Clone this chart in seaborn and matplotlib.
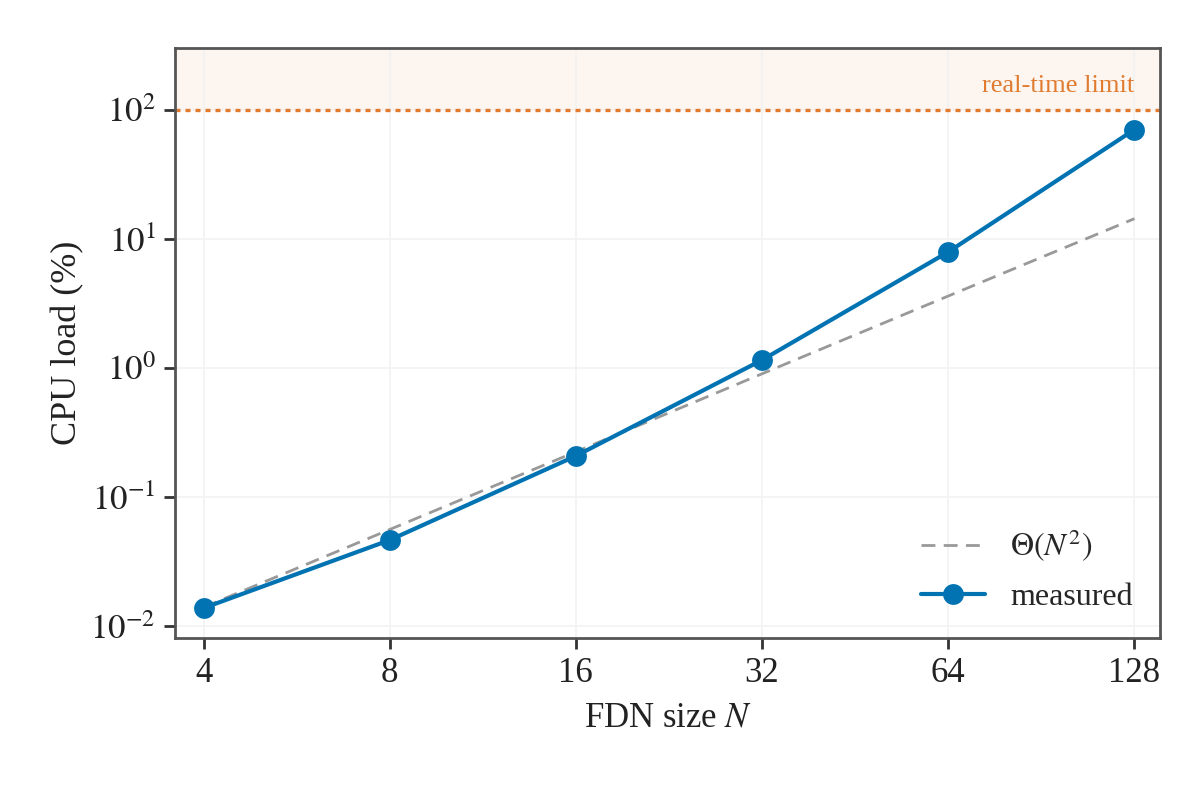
import numpy as np
import pandas as pd
import seaborn as sns
import matplotlib.pyplot as plt
from matplotlib.ticker import FixedLocator, NullLocator, FixedFormatter

# Data
fdn_size = [4, 8, 16, 32, 64, 128]
cpu_measured = [0.0138, 0.0464, 0.208, 1.15, 7.9, 70.0]
cpu_theta = [0.014, 0.056, 0.224, 0.90, 3.6, 14.3]
realtime_limit = 100

blue = '#0173b2'
orange = '#e07b2f'

sns.set_theme(style='white')
plt.rcParams['font.family'] = ['Liberation Serif', 'DejaVu Serif']
plt.rcParams['mathtext.fontset'] = 'stix'

df = pd.DataFrame({'N': fdn_size, 'measured': cpu_measured, 'theta': cpu_theta})

fig = plt.figure(figsize=(6, 3.965), dpi=200)
ax = fig.add_axes([0.146, 0.1955, 0.821, 0.744])

ax.axhspan(realtime_limit, 1e4, color=orange, alpha=0.07, lw=0, zorder=0)
ax.axhline(realtime_limit, color=orange, ls=(0, (1.5, 1.5)), lw=1.2, zorder=1)

sns.lineplot(data=df, x='N', y='theta', ax=ax, color='#999999', lw=1.0,
             dashes=False, label=r'$\Theta(N^2)$', zorder=2)
ax.lines[-1].set_linestyle((0, (5, 3)))
sns.lineplot(data=df, x='N', y='measured', ax=ax, color=blue, lw=1.5,
             marker='o', markersize=7.5, markeredgewidth=0, label='measured', zorder=3)

ax.set_xscale('log', base=2)
ax.set_yscale('log')
ax.set_xlim(3.6, 141)
ax.set_ylim(0.0081, 300)

ax.xaxis.set_major_locator(FixedLocator(fdn_size))
ax.xaxis.set_major_formatter(FixedFormatter([str(n) for n in fdn_size]))
ax.xaxis.set_minor_locator(NullLocator())
ax.yaxis.set_major_locator(FixedLocator([1e-2, 1e-1, 1e0, 1e1, 1e2]))
ax.yaxis.set_major_formatter(FixedFormatter([r'$10^{-2}$', r'$10^{-1}$', r'$10^{0}$', r'$10^{1}$', r'$10^{2}$']))
ax.yaxis.set_minor_locator(NullLocator())

ax.grid(True, color='#f2f2f2', lw=0.6)
ax.set_axisbelow(True)
for s in ax.spines.values():
    s.set_color('#555555')
    s.set_linewidth(1.0)
ax.tick_params(axis='both', which='major', direction='out', length=4, width=1,
               color='#333333', labelsize=12.5, labelcolor='#222222', pad=3,
               bottom=True, left=True, top=False, right=False)

ax.set_xlabel(r'FDN size $N$', fontsize=12.5, color='#222222', labelpad=4)
ax.set_ylabel('CPU load (%)', fontsize=13, color='#222222', labelpad=2)

ax.text(0.973, 0.935, 'real-time limit', transform=ax.transAxes, ha='right', va='center',
        fontsize=9.5, color=orange)

ax.legend(loc='lower right', frameon=False, fontsize=11.5, handlelength=2.0,
          borderaxespad=0.4, labelspacing=0.6, bbox_to_anchor=(0.998, 0.0))

fig.savefig('out.png', dpi=200)
